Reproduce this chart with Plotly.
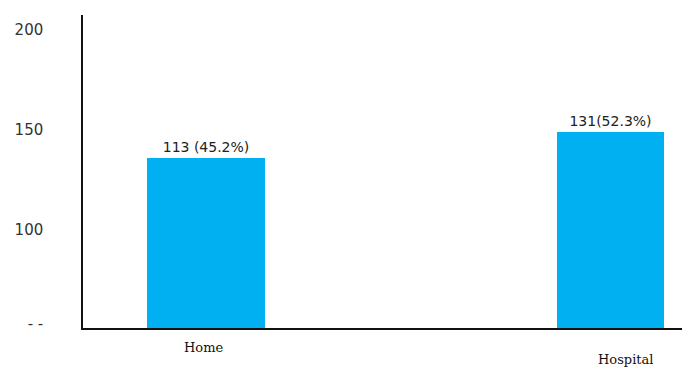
import plotly.graph_objects as go

categories = ["Home", "Hospital"]
bar_heights = [136.2, 149]          # heights as drawn in the picture
counts = [113, 131]
percents = ["45.2%", "52.3%"]
bar_text = ["113 (45.2%)", "131(52.3%)"]
tick_vals = [53, 100, 150, 200]
tick_text = ["- -", "100", "150", "200"]

x_pos = [0, 1]
widths = [0.292, 0.265]

fig = go.Figure()
fig.add_trace(go.Bar(
    x=x_pos, y=bar_heights, width=widths,
    marker=dict(color="#00B0F0", line=dict(width=0)),
    text=bar_text, textposition="outside", cliponaxis=False,
    textfont=dict(family="DejaVu Sans", size=14, color="#222222"),
))

label_offsets = [(-0.007, -19), (0.038, -31)]
for i, cat in enumerate(categories):
    dx, dy = label_offsets[i]
    fig.add_annotation(
        x=x_pos[i] + dx, y=0, xref="x", yref="paper",
        text=cat, showarrow=False, yanchor="middle", yshift=dy,
        font=dict(family="DejaVu Serif", size=13, color="#111111"),
    )

fig.update_layout(
    width=682, height=368,
    margin=dict(l=83, r=0, t=15, b=40),
    paper_bgcolor="white", plot_bgcolor="white",
    showlegend=False,
    bargap=0,
)
fig.update_xaxes(
    range=[-0.304, 1.178], showticklabels=False, showgrid=False, zeroline=False,
    showline=True, linecolor="#111111", linewidth=1.5, ticks="",
)
fig.update_yaxes(
    range=[51, 207.5], tickvals=tick_vals, ticktext=tick_text,
    showgrid=False, zeroline=False,
    showline=True, linecolor="#111111", linewidth=1.5,
    ticks="outside", ticklen=35, tickcolor="rgba(0,0,0,0)",
    tickfont=dict(family="DejaVu Sans", size=15, color="#333333"),
)

fig.write_html(
    "out.html",
    config={"displayModeBar": False},
    post_script="document.body.style.margin='0';document.body.style.overflow='hidden';",
)
